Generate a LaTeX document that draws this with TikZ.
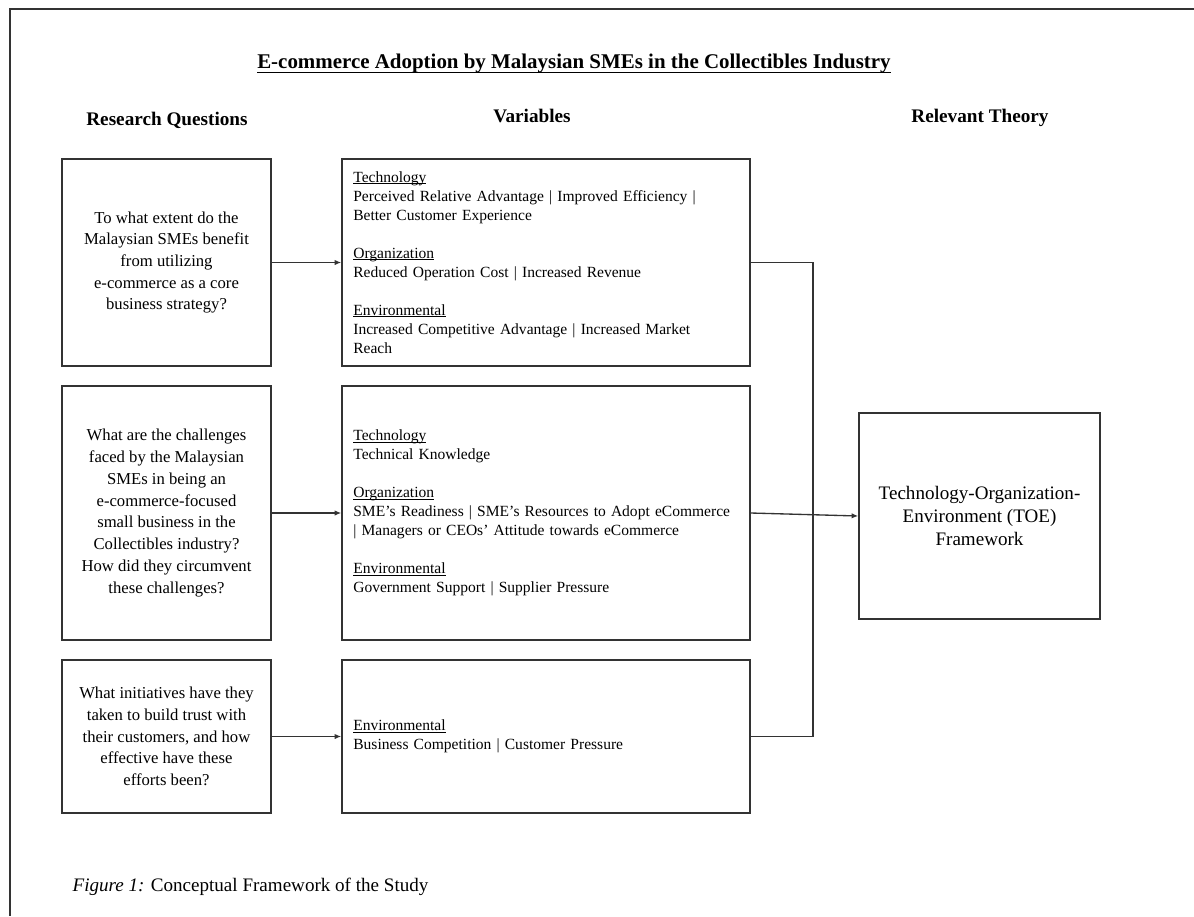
\documentclass[tikz,border=0pt]{standalone}
\usepackage{fontspec}
\setmainfont{Liberation Serif}
\usetikzlibrary{arrows.meta}
\definecolor{linegray}{rgb}{0.2,0.2,0.2}
\newcommand{\uword}[2][1.4pt]{\leavevmode\setbox0\hbox{#2}\rlap{\rule[-#1]{\wd0}{0.55pt}}\box0}

\begin{document}
\begin{tikzpicture}[x=0.75pt,y=-0.75pt,
  box/.style={draw=linegray, line width=1pt, inner sep=0pt},
  questionbox/.style={box, minimum width=156.75pt, align=center, font=\fontsize{12.5}{16.3}\selectfont},
  varbox/.style={box, minimum width=306pt, text width=289pt, align=left, font=\fontsize{11.65}{14.25}\selectfont},
  heading/.style={anchor=base, font=\fontsize{14.4}{17}\selectfont\bfseries},
  link/.style={draw=linegray, line width=1pt},
  arrow/.style={link, -{Latex[length=5pt,width=4pt]}}]
			\useasboundingbox (0,0) rectangle (1194,916);
			%Moldura
			\draw[link] (1194,9) -- (10,9) -- (10,916);
			
			%Titulo e cabecalhos
			\node[anchor=base, font=\fontsize{15.7}{18}\selectfont\bfseries] (title) at (574,69) {\uword[2.6pt]{E-commerce Adoption by Malaysian SMEs in the Collectibles Industry}};
			\node[heading] (hq) at (167,126) {Research Questions};
			\node[heading] (hv) at (532,123) {Variables};
			\node[heading] (ht) at (980,123) {Relevant Theory};
			
			%Perguntas
			\node[questionbox, minimum height=155.25pt] (q1) at (166.5,262.5) {To what extent do the\\Malaysian SMEs benefit\\from utilizing\\e-commerce as a core\\business strategy?};
			\node[questionbox, minimum height=190.5pt] (q2) at (166.5,513) {What are the challenges\\faced by the Malaysian\\SMEs in being an\\e-commerce-focused\\small business in the\\Collectibles industry?\\How did they circumvent\\these challenges?};
			\node[questionbox, minimum height=114.75pt] (q3) at (166.5,736.5) {What initiatives have they\\taken to build trust with\\their customers, and how\\effective have these\\efforts been?};
			
			%Variaveis
			\node[varbox, minimum height=155.25pt] (v1) at (546,262.5) {\uword{Technology}\\Perceived Relative Advantage | Improved Efficiency |\\Better Customer Experience\\[14.25pt]\uword{Organization}\\Reduced Operation Cost | Increased Revenue\\[14.25pt]\uword{Environmental}\\Increased Competitive Advantage | Increased Market\\Reach};
			\node[varbox, minimum height=190.5pt] (v2) at (546,513) {\uword{Technology}\\Technical Knowledge\\[14.25pt]\uword{Organization}\\SME’s Readiness | SME’s Resources to Adopt eCommerce\\| Managers or CEOs’ Attitude towards eCommerce\\[14.25pt]\uword{Environmental}\\Government Support | Supplier Pressure};
			\node[varbox, minimum height=114.75pt] (v3) at (546,736.5) {\uword{Environmental}\\Business Competition | Customer Pressure};
			
			%Teoria
			\node[box, minimum width=180.75pt, minimum height=154.5pt, align=center, font=\fontsize{14.3}{17.25}\selectfont] (toe) at (979.5,516) {Technology-Organization-\\Environment (TOE)\\Framework};
			
			%Setas
			\draw[arrow] (q1) -- (v1);
			\draw[arrow] (q2) -- (v2);
			\draw[arrow] (q3) -- (v3);
			\coordinate (rail) at (813,0);
			\draw[link] (v1.east) -- (v1.east -| rail) -- (v3.east -| rail) -- (v3.east);
			\draw[arrow] (v2.east) -- (toe.west);
			
			%Legenda
			\node[anchor=base west, font=\fontsize{14.3}{17}\selectfont] (caption) at (68,891) {\textit{Figure 1:} Conceptual Framework of the Study};
		\end{tikzpicture}
\end{document}
